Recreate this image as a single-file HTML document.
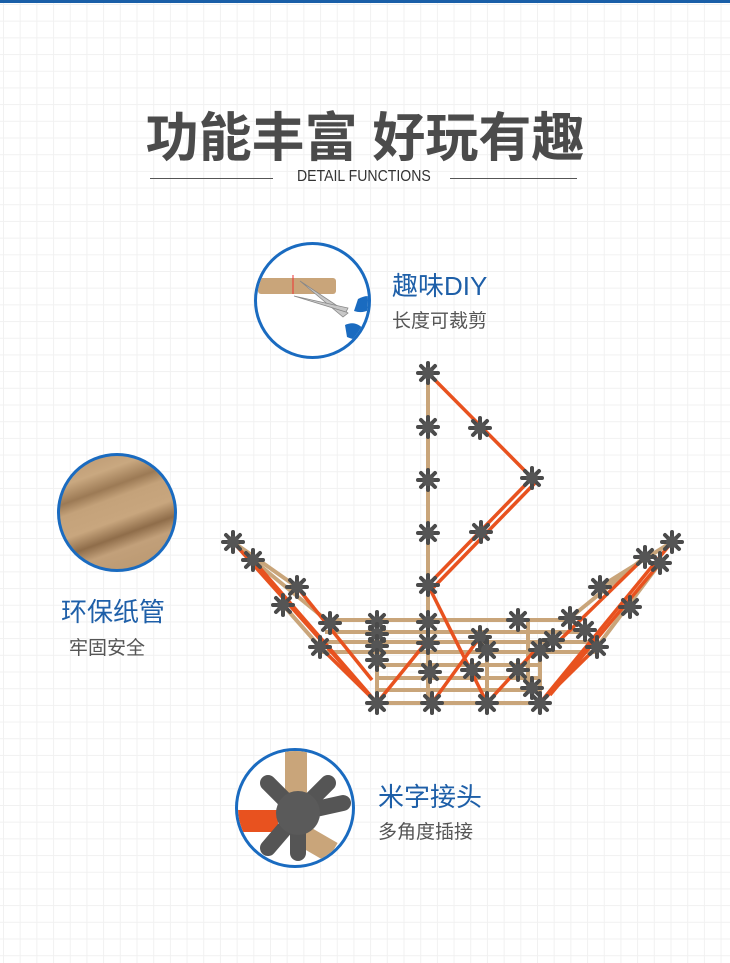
<!DOCTYPE html>
<html><head><meta charset="utf-8"><style>
html,body{margin:0;padding:0}
body{width:730px;height:963px;position:relative;overflow:hidden;background:#fff;
background-image:linear-gradient(#f1f1f1 1px,transparent 1px),linear-gradient(90deg,#f1f1f1 1px,transparent 1px);background-size:16.7px 16.7px;background-position:3px 4px;
font-family:"Liberation Sans","Noto Sans CJK SC",sans-serif}
.t{position:absolute;white-space:nowrap}
.bar{position:absolute;left:0;top:0;width:730px;height:3px;background:#1a5fa8}
.title{left:0;width:730px;text-align:center;top:96px;font-size:53px;font-weight:bold;color:#4b4b4b}
.ln{position:absolute;top:178px;height:1px;background:#555}
.sub{left:297px;top:168px;font-size:16px;color:#333;transform:scaleX(.88);transform-origin:left}
.h{font-size:26px;color:#1e5fa8}
.s{font-size:19px;color:#555}
.c{position:absolute;border:3px solid #1a6bc0;border-radius:50%;box-sizing:border-box;overflow:hidden;background:#fff}
</style></head><body>
<div class="bar"></div>
<div class="t title">功能丰富 好玩有趣</div>
<div class="ln" style="left:150px;width:123px"></div>
<div class="ln" style="left:450px;width:127px"></div>
<div class="t sub">DETAIL FUNCTIONS</div>

<div class="c" style="left:254px;top:242px;width:117px;height:117px">
<svg width="117" height="117" viewBox="254 242 117 117">
<rect x="255" y="275" width="78" height="16" rx="3" fill="#c9a57a"/>
<line x1="290" y1="272" x2="290" y2="291" stroke="#e33" stroke-width="1"/>
<polygon points="297,278 345,310 340,314" fill="#c8c8c8" stroke="#888" stroke-width=".8"/>
<polygon points="291,293 345,305 343,309" fill="#c8c8c8" stroke="#888" stroke-width=".8"/>
<path d="M355,296 q15,-8 16,6 q-8,10 -20,6z" fill="#1a6bc0"/>
<path d="M342,322 q12,-6 22,8 q-6,10 -20,4z" fill="#1a6bc0"/>
</svg></div>
<div class="t h" style="left:392px;top:266px">趣味DIY</div>
<div class="t s" style="left:392px;top:306px">长度可裁剪</div>

<div class="c" style="left:57px;top:453px;width:120px;height:119px;background:linear-gradient(160deg,#b89570 0%,#c9a880 20%,#9c7a55 32%,#c4a27a 40%,#c8a67e 55%,#8f6d4a 66%,#c2a07a 75%,#b8966e 100%)"></div>
<div class="t h" style="left:61px;top:592px">环保纸管</div>
<div class="t s" style="left:69px;top:633px">牢固安全</div>

<div class="c" style="left:235px;top:748px;width:120px;height:120px">
<svg width="120" height="120" viewBox="235 748 120 120">
<rect x="282" y="745" width="22" height="50" fill="#c9a57a"/>
<rect x="230" y="807" width="45" height="22" fill="#e8521f"/>
<rect x="300" y="820" width="40" height="22" fill="#c9a57a" transform="rotate(30 300 820)"/>
<g stroke="#555" stroke-width="16" stroke-linecap="round">
<line x1="295" y1="810" x2="265" y2="780"/><line x1="295" y1="810" x2="325" y2="780"/>
<line x1="295" y1="810" x2="265" y2="845"/><line x1="295" y1="810" x2="295" y2="850"/>
<line x1="295" y1="810" x2="340" y2="800"/></g>
<circle cx="295" cy="810" r="22" fill="#5a5a5a"/>
</svg></div>
<div class="t h" style="left:378px;top:777px">米字接头</div>
<div class="t s" style="left:378px;top:817px">多角度插接</div>

<svg style="position:absolute;left:0;top:0" width="730" height="963">
<defs><g id="n"><g stroke="#4a4a4a" stroke-width="4" stroke-linecap="round">
<line x1="-10" y1="0" x2="10" y2="0"/><line x1="0" y1="-10" x2="0" y2="10"/>
<line x1="-7" y1="-7" x2="7" y2="7"/><line x1="-7" y1="7" x2="7" y2="-7"/></g>
<circle r="6" fill="#555"/></g></defs>
<g stroke="#c9a57a" stroke-width="4">
<line x1="428" y1="373" x2="428" y2="705"/>
<line x1="253" y1="560" x2="330" y2="623"/><line x1="283" y1="605" x2="320" y2="647"/>
<line x1="233" y1="542" x2="297" y2="587"/>
<line x1="645" y1="557" x2="570" y2="618"/><line x1="660" y1="563" x2="597" y2="647"/>
<line x1="672" y1="542" x2="600" y2="587"/>
<line x1="330" y1="620" x2="575" y2="620"/><line x1="325" y1="632" x2="585" y2="632"/>
<line x1="322" y1="642" x2="592" y2="642"/><line x1="320" y1="652" x2="597" y2="652"/>
<line x1="377" y1="665" x2="540" y2="665"/><line x1="377" y1="678" x2="540" y2="678"/>
<line x1="377" y1="690" x2="540" y2="690"/><line x1="377" y1="703" x2="540" y2="703"/>
<line x1="377" y1="620" x2="377" y2="703"/><line x1="487" y1="640" x2="487" y2="703"/>
<line x1="540" y1="645" x2="540" y2="703"/><line x1="528" y1="620" x2="528" y2="690"/>
</g>
<g stroke="#e8521f" stroke-width="3.5">
<line x1="428" y1="373" x2="532" y2="478"/>
<line x1="532" y1="478" x2="428" y2="585"/><line x1="536" y1="482" x2="432" y2="589"/>
<line x1="428" y1="585" x2="487" y2="703"/>
<line x1="377" y1="703" x2="428" y2="640"/><line x1="487" y1="703" x2="540" y2="645"/>
<line x1="540" y1="703" x2="597" y2="647"/><line x1="432" y1="703" x2="480" y2="637"/>
<line x1="233" y1="542" x2="377" y2="703"/><line x1="253" y1="560" x2="370" y2="695"/>
<line x1="297" y1="587" x2="372" y2="680"/><line x1="320" y1="647" x2="377" y2="703"/>
<line x1="672" y1="542" x2="540" y2="703"/><line x1="660" y1="563" x2="550" y2="695"/>
<line x1="645" y1="557" x2="560" y2="640"/>
</g>
<g>
<use href="#n" x="428" y="373"/><use href="#n" x="428" y="427"/><use href="#n" x="428" y="480"/>
<use href="#n" x="428" y="533"/><use href="#n" x="428" y="585"/>
<use href="#n" x="480" y="428"/><use href="#n" x="532" y="478"/><use href="#n" x="481" y="532"/>
<use href="#n" x="233" y="542"/><use href="#n" x="253" y="560"/><use href="#n" x="297" y="587"/><use href="#n" x="283" y="605"/>
<use href="#n" x="330" y="623"/><use href="#n" x="320" y="647"/>
<use href="#n" x="377" y="622"/><use href="#n" x="377" y="634"/><use href="#n" x="377" y="646"/><use href="#n" x="377" y="660"/>
<use href="#n" x="428" y="622"/><use href="#n" x="428" y="643"/><use href="#n" x="480" y="637"/><use href="#n" x="487" y="650"/>
<use href="#n" x="518" y="620"/><use href="#n" x="553" y="640"/><use href="#n" x="540" y="650"/>
<use href="#n" x="570" y="618"/><use href="#n" x="597" y="647"/>
<use href="#n" x="672" y="542"/><use href="#n" x="645" y="557"/><use href="#n" x="660" y="563"/>
<use href="#n" x="600" y="587"/><use href="#n" x="630" y="607"/><use href="#n" x="585" y="630"/>
<use href="#n" x="377" y="703"/><use href="#n" x="432" y="703"/><use href="#n" x="487" y="703"/><use href="#n" x="540" y="703"/>
<use href="#n" x="430" y="672"/><use href="#n" x="472" y="670"/><use href="#n" x="518" y="670"/><use href="#n" x="532" y="688"/>
</g></svg>
</body></html>
